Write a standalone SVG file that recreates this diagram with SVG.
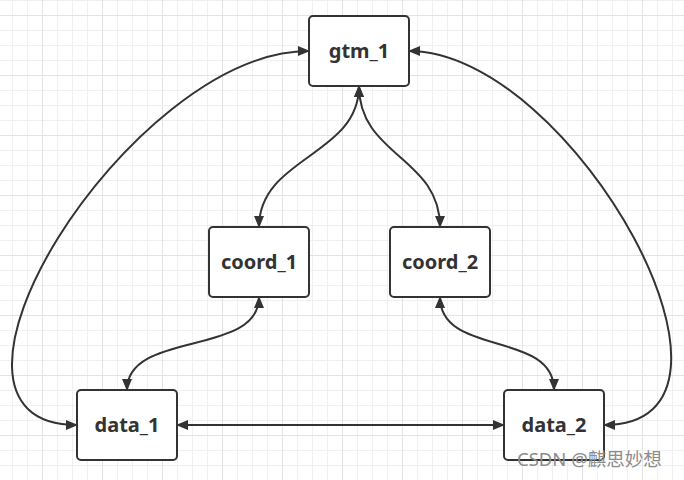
<svg xmlns="http://www.w3.org/2000/svg" width="684" height="480" viewBox="0 0 684 480">
  <defs>
    <pattern id="gridS" patternUnits="userSpaceOnUse" x="12" y="0" width="15" height="15">
      <path d="M0.5,0 V15 M0,0.5 H15" stroke="#f0f0f0" stroke-width="1" fill="none"/>
    </pattern>
    <pattern id="gridL" patternUnits="userSpaceOnUse" x="42" y="15" width="60" height="60">
      <path d="M0.5,0 V60 M0,0.5 H60" stroke="#e3e3e3" stroke-width="1" fill="none"/>
    </pattern>
    <marker id="arr" viewBox="0 0 12 10" refX="11" refY="5" markerWidth="12" markerHeight="10" markerUnits="userSpaceOnUse" orient="auto-start-reverse">
      <path d="M0,0 L12,5 L0,10 z" fill="#333"/>
    </marker>
  </defs>
  <style>
    .node rect { fill: #fff; stroke: #333; stroke-width: 2; }
    .node text { font-family: "Noto Sans", "Liberation Sans", sans-serif; font-weight: bold; font-size: 20px; fill: #333; text-anchor: middle; }
    .conn path { fill: none; stroke: #333; stroke-width: 2; marker-start: url(#arr); marker-end: url(#arr); }
    .wm { font-family: "Noto Sans", "Noto Sans CJK SC", sans-serif; font-size: 18.5px; fill: #8c8c8c; }
  </style>
  <rect width="684" height="480" fill="#fff"/>
  <rect width="684" height="480" fill="url(#gridS)"/>
  <rect width="684" height="480" fill="url(#gridL)"/>

  <g id="connectors" class="conn">
    <path d="M359,86 C359,156 259,157 259,227"/>
    <path d="M359,86 C359,156 440,157 440,227"/>
    <path d="M259,297 C259,357 127,330 127,390"/>
    <path d="M440,297 C440,357 554,330 554,390"/>
    <path d="M177,425 L504,425"/>
    <path d="M309,51 C129,51 -103,425 77,425"/>
    <path d="M409,51 C573,51 780,425 604,425"/>
  </g>

  <g id="gtm_1" class="node">
    <rect x="309" y="16" width="100" height="70" rx="4"/>
    <text x="359" y="58">gtm_1</text>
  </g>
  <g id="coord_1" class="node">
    <rect x="209" y="227" width="100" height="70" rx="4"/>
    <text x="259" y="269">coord_1</text>
  </g>
  <g id="coord_2" class="node">
    <rect x="390" y="227" width="100" height="70" rx="4"/>
    <text x="440" y="269">coord_2</text>
  </g>
  <g id="data_1" class="node">
    <rect x="77" y="390" width="100" height="70" rx="4"/>
    <text x="127" y="432">data_1</text>
  </g>
  <g id="data_2" class="node">
    <rect x="504" y="390" width="100" height="70" rx="4"/>
    <text x="554" y="432">data_2</text>
  </g>

  <text class="wm" x="517" y="466">CSDN @麒思妙想</text>
</svg>
